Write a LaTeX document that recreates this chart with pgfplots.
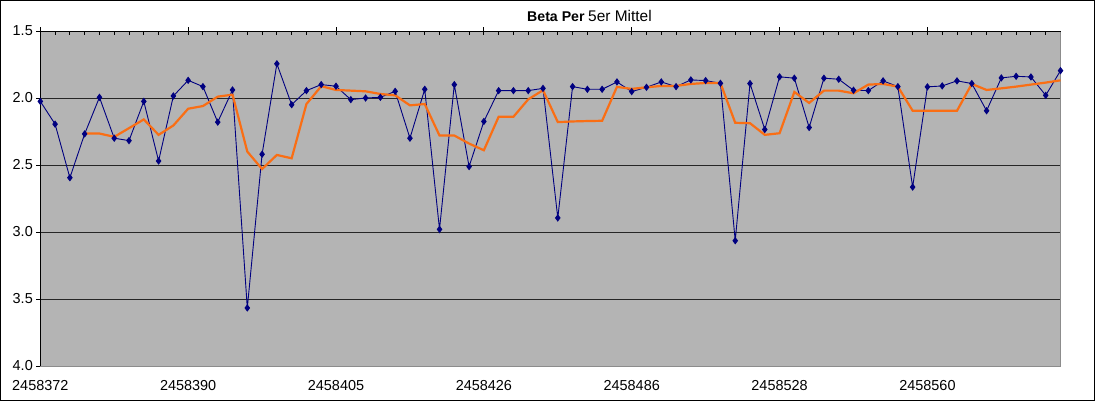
\documentclass[border=0pt]{standalone}
\usepackage{fontspec}
\setmainfont{Liberation Sans}
\usepackage{pgfplots}
\pgfplotsset{compat=1.18}
\definecolor{plotgray}{RGB}{180,180,180}
\definecolor{navyb}{RGB}{0,0,128}
\definecolor{orng}{RGB}{250,110,20}
\pgfplotstableread{
i v
0 2.025
1 2.195
2 2.595
3 2.268
4 1.995
5 2.300
6 2.318
7 2.025
8 2.470
9 1.985
10 1.868
11 1.915
12 2.180
13 1.940
14 3.567
15 2.420
16 1.745
17 2.050
18 1.945
19 1.900
20 1.912
21 2.012
22 2.000
23 1.995
24 1.950
25 2.300
26 1.935
27 2.980
28 1.900
29 2.512
30 2.175
31 1.945
32 1.945
33 1.945
34 1.928
35 2.895
36 1.915
37 1.935
38 1.935
39 1.880
40 1.952
41 1.920
42 1.880
43 1.915
44 1.865
45 1.870
46 1.890
47 3.065
48 1.892
49 2.235
50 1.842
51 1.852
52 2.220
53 1.852
54 1.860
55 1.942
56 1.945
57 1.872
58 1.915
59 2.665
60 1.917
61 1.910
62 1.872
63 1.892
64 2.095
65 1.850
66 1.838
67 1.843
68 1.980
69 1.796
}\betaper
\pgfplotstableread{
i v
3 2.265
4 2.265
5 2.290
6 2.225
7 2.160
8 2.275
9 2.205
10 2.080
11 2.060
12 1.990
13 1.975
14 2.400
15 2.530
16 2.425
17 2.450
18 2.045
19 1.912
20 1.940
21 1.945
22 1.950
23 1.970
24 1.980
25 2.055
26 2.045
27 2.280
28 2.280
29 2.340
30 2.390
31 2.140
32 2.140
33 2.010
34 1.942
35 2.180
36 2.175
37 2.172
38 2.170
39 1.917
40 1.932
41 1.920
42 1.910
43 1.910
44 1.895
45 1.888
46 1.888
47 2.185
48 2.188
49 2.275
50 2.263
51 1.955
52 2.037
53 1.945
54 1.945
55 1.965
56 1.900
57 1.895
58 1.915
59 2.095
60 2.095
61 2.095
62 2.095
63 1.895
64 1.940
65 1.928
66 1.915
67 1.900
68 1.885
69 1.868
}\mittel
\begin{document}
\begin{tikzpicture}
\useasboundingbox (0,0) rectangle (1096bp,401bp);
\draw[black, line width=1.3bp] (0.65bp,0.65bp) rectangle (1094.3bp,400.35bp);
\begin{axis}[
  scale only axis, width=1020.2bp, height=335bp,
  at={(550.4bp,202.5bp)}, anchor=center,
  xmin=0, xmax=69, ymin=1.5, ymax=4.0, y dir=reverse,
  clip=false,
  axis background/.style={fill=plotgray},
  axis line style={draw=black!45, line width=0.8bp},
  ytick={1.5,2,2.5,3,3.5,4},
  yticklabels={1.5,2.0,2.5,3.0,3.5,4.0},
  ymajorgrids, grid style={black!85, line width=0.9bp},
  xtick={0,10,...,60},
  xticklabels={2458372,2458390,2458405,2458426,2458486,2458528,2458560},
  xtick pos=right, xticklabel pos=left,
  ytick pos=left,
  tick align=outside, major tick length=4bp,
  tick style={black, line width=0.9bp},
  ticklabel style={font=\fontsize{14.5}{16}\selectfont},
  xticklabel style={anchor=north, yshift=-7bp},
  yticklabel style={anchor=east, xshift=0bp},
]
\draw[black, line width=0.9bp] (axis cs:0,4) -- (axis cs:0,1.5) -- (axis cs:69,1.5);
\pgfplotsinvokeforeach{1,...,68}{\draw[black, line width=0.9bp] (axis cs:#1,1.5) -- (axis cs:#1,1.53);}
\addplot[navyb, line width=0.9bp, mark=diamond*, mark size=3bp, mark options={fill=navyb, draw=navyb}] table[x=i, y=v] {\betaper};
\addplot[orng, line width=2.2bp, no marks] table[x=i, y=v] {\mittel};
\end{axis}
\node[anchor=base west, inner sep=0, font=\bfseries\fontsize{14.2}{16}\selectfont] at (527bp,379bp) {Beta Per};
\node[anchor=base west, inner sep=0, font=\fontsize{15.5}{17}\selectfont] at (588bp,379bp) {5er Mittel};
\end{tikzpicture}
\end{document}
